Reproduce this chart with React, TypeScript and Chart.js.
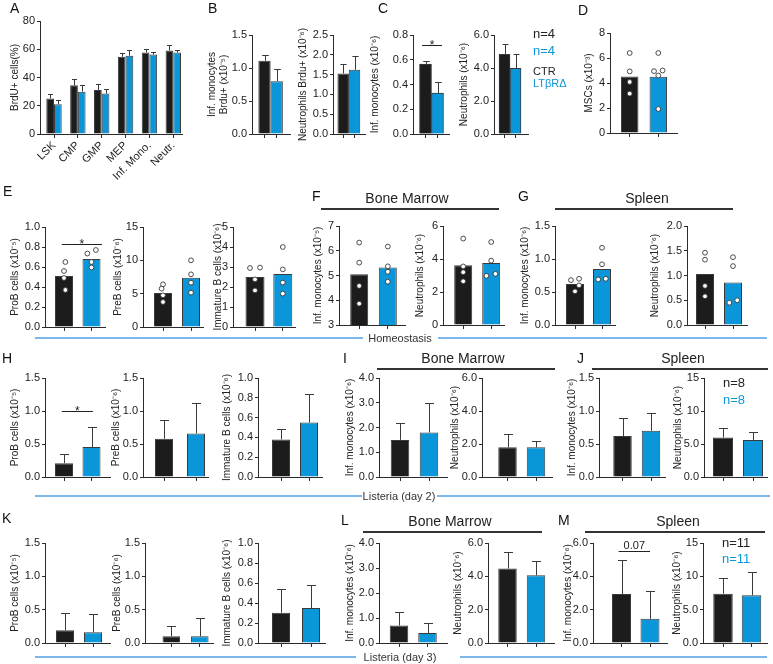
import React, { useEffect, useRef } from 'react';
import { Chart, registerables } from 'chart.js';

Chart.register(...registerables);

const FONT = '"Liberation Sans", Arial, Helvetica, sans-serif';
const BLACK = '#1c1c1c';
const BLUE = '#0a96d9';
const EDGE = '#3a3a3a';
const AXIS = '#2b2b2b';
const TEXT = '#222222';
const ERR = '#3a3a3a';
const SEP_BLUE = '#7db8ec';
const TITLE_SIZE = 10;
const TICK_SIZE = 11;

// ---------------- data ----------------
const GROUPS = ['CTR', 'LTβRΔ'];
const GROUP_COLORS = [BLACK, BLUE];

// Panel A
const A_CATEGORIES = ['LSK', 'CMP', 'GMP', 'MEP', 'Inf. Mono.', 'Neutr.'];
const A_CTR = [25.1, 34.5, 31.2, 54.7, 57.7, 59.2];
const A_CTR_SD = [3.3, 4.7, 4.2, 2.3, 2.6, 3.5];
const A_KO = [21.1, 30.0, 28.6, 55.4, 56.3, 57.7];
const A_KO_SD = [3.1, 5.0, 3.4, 4.0, 1.7, 1.9];

// Panel B
const B1_MEAN = [1.11, 0.8];
const B1_SD = [0.09, 0.19];
const B2_MEAN = [1.53, 1.62];
const B2_SD = [0.25, 0.35];
// Panel C
const C1_MEAN = [0.566, 0.33];
const C1_SD = [0.025, 0.09];
const C2_MEAN = [4.83, 3.98];
const C2_SD = [0.6, 0.85];
// Panel D
const D_MEAN = [4.53, 4.5];
const D_CTR_DOTS = [6.4, 4.93, 4.08, 3.15];
const D_KO_DOTS = [6.4, 4.95, 5.0, 4.6, 1.92];
const D_CTR_JIT = [0, 0, 0, 0];
const D_KO_JIT = [0, -0.15, 0.15, 0, 0];
// Panel E
const E1_MEAN = [0.51, 0.68];
const E1_CTR_DOTS = [0.65, 0.56, 0.49, 0.37];
const E1_KO_DOTS = [0.77, 0.735, 0.65, 0.595];
const E1_CTR_JIT = [0.05, 0, 0, 0.05];
const E1_KO_JIT = [0.16, -0.15, 0, 0];
const E2_MEAN = [5.1, 7.4];
const E2_CTR_DOTS = [6.4, 5.75, 4.75, 3.75];
const E2_KO_DOTS = [10.0, 7.9, 6.65, 5.15];
const E2_CTR_JIT = [0, -0.05, 0, 0];
const E2_KO_JIT = [0, 0, 0, 0];
const E3_MEAN = [2.5, 2.65];
const E3_CTR_DOTS = [2.95, 2.97, 2.38, 1.83];
const E3_KO_DOTS = [4.0, 2.88, 2.22, 1.67];
const E3_CTR_JIT = [-0.18, 0.18, 0, 0];
const E3_KO_JIT = [0, 0, 0, 0];
// Panel F
const F1_MEAN = [5.05, 5.32];
const F1_CTR_DOTS = [6.33, 5.52, 4.58, 3.86];
const F1_KO_DOTS = [6.17, 5.37, 5.15, 4.75];
const F2_MEAN = [3.62, 3.76];
const F2_CTR_DOTS = [5.24, 3.55, 3.2, 2.65];
const F2_KO_DOTS = [5.03, 3.9, 3.1, 2.98];
const F2_KO_JIT = [0, 0, 0.15, -0.17];
// Panel G
const G1_MEAN = [0.62, 0.85];
const G1_CTR_DOTS = [0.68, 0.7, 0.6, 0.51];
const G1_KO_DOTS = [1.17, 0.92, 0.69, 0.7];
const G1_CTR_JIT = [-0.15, 0.15, 0.15, 0];
const G1_KO_JIT = [0, 0, -0.14, 0.14];
const G2_MEAN = [1.03, 0.86];
const G2_CTR_DOTS = [1.46, 1.32, 0.79, 0.58];
const G2_KO_DOTS = [1.37, 1.19, 0.45, 0.5];
const G2_KO_JIT = [0, 0, -0.13, 0.15];
const ZERO4 = [0, 0, 0, 0];
// Panel H (Listeria day 2)
const H1_MEAN = [0.21, 0.455];
const H1_SD = [0.145, 0.305];
const H2_MEAN = [0.58, 0.66];
const H2_SD = [0.29, 0.46];
const H3_MEAN = [0.38, 0.55];
const H3_SD = [0.105, 0.285];
// Panel I
const I1_MEAN = [1.5, 1.8];
const I1_SD = [0.7, 1.17];
const I2_MEAN = [1.8, 1.8];
const I2_SD = [0.8, 0.4];
// Panel J
const J1_MEAN = [0.62, 0.7];
const J1_SD = [0.27, 0.265];
const J2_MEAN = [5.97, 5.6];
const J2_SD = [1.53, 1.27];
// Panel K (Listeria day 3)
const K1_MEAN = [0.19, 0.16];
const K1_SD = [0.26, 0.28];
const K2_MEAN = [0.1, 0.1];
const K2_SD = [0.155, 0.275];
const K3_MEAN = [0.303, 0.35];
const K3_SD = [0.234, 0.233];
// Panel L
const L1_MEAN = [0.7, 0.4];
const L1_SD = [0.545, 0.42];
const L2_MEAN = [4.47, 4.06];
const L2_SD = [0.98, 0.87];
// Panel M
const M1_MEAN = [2.94, 1.45];
const M1_SD = [2.06, 1.69];
const M2_MEAN = [7.4, 7.15];
const M2_SD = [2.35, 3.45];

// ---------------- types ----------------
type Series = { values: number[]; sd?: number[]; colors: string[] | string; dots?: number[][]; jitter?: number[][] };
type Sig = { value: number; from: number; to: number; text: string; size: number };
type Def = {
  title: string | string[];
  cats: string[];
  catLabels?: boolean;
  series: Series[];
  yMin: number; yMax: number; yStep: number;
  fmt: (v: number) => string;
  sig?: Sig;
};
type Geo = { x0: number; x1: number; c0: number; c1: number; bw: number; yTop: number; yBot: number; tx: number; padB?: number };

const d0 = (v: number) => String(Math.round(v));
const d1 = (v: number) => v.toFixed(1);
const dm = (v: number) => (v >= 10 ? String(Math.round(v)) : v.toFixed(1));

function two(title: string | string[], mean: number[], sd: number[] | undefined, yMin: number, yMax: number, yStep: number, fmt: (v: number) => string, dots?: number[][], jitter?: number[][], sig?: Sig): Def {
  return { title, cats: GROUPS, series: [{ values: mean, sd, colors: GROUP_COLORS, dots, jitter }], yMin, yMax, yStep, fmt, sig };
}

const PROB = 'ProB cells (x10⁻⁵)';
const PREB = 'PreB cells (x10⁻⁶)';
const IMMB = 'Immature B cells (x10⁻⁶)';
const MONO6 = 'Inf. monocytes (x10⁻⁶)';
const NEUT6 = 'Neutrophils (x10⁻⁶)';

const PANELS: { def: Def; geo: Geo }[] = [
  {
    def: {
      title: 'BrdU+ cells(%)', cats: A_CATEGORIES, catLabels: true,
      series: [{ values: A_CTR, sd: A_CTR_SD, colors: BLACK }, { values: A_KO, sd: A_KO_SD, colors: BLUE }],
      yMin: 0, yMax: 80, yStep: 20, fmt: d0,
    },
    geo: { x0: 40, x1: 182, c0: 54, c1: 173.3, bw: 15.4, yTop: 21, yBot: 134, tx: 15, padB: 52 },
  },
  { def: two(['Inf. monocytes', 'Brdu+ (x10⁻⁵)'], B1_MEAN, B1_SD, 0, 1.5, 0.5, d1), geo: { x0: 252, x1: 290, c0: 264.5, c1: 276.7, bw: 12.3, yTop: 35, yBot: 134, tx: 212 } },
  { def: two('Neutrophils Brdu+ (x10⁻⁶)', B2_MEAN, B2_SD, 0, 2.5, 0.5, d1), geo: { x0: 333, x1: 365, c0: 343.2, c1: 354.5, bw: 11.5, yTop: 35, yBot: 134, tx: 303 } },
  { def: two(MONO6, C1_MEAN, C1_SD, 0, 0.8, 0.2, d1, undefined, undefined, { value: 0.72, from: -0.29, to: 1.38, text: '*', size: 12 }), geo: { x0: 413, x1: 449, c0: 425.5, c1: 437.5, bw: 12, yTop: 35, yBot: 134, tx: 375 } },
  { def: two(NEUT6, C2_MEAN, C2_SD, 0, 6, 2, d1), geo: { x0: 494, x1: 528, c0: 504.5, c1: 515.5, bw: 11, yTop: 35, yBot: 134, tx: 464 } },
  { def: two('MSCs (x10⁻³)', D_MEAN, undefined, 0, 8, 2, d0, [D_CTR_DOTS, D_KO_DOTS], [D_CTR_JIT, D_KO_JIT]), geo: { x0: 610, x1: 677, c0: 629.7, c1: 658.3, bw: 17.5, yTop: 33, yBot: 133, tx: 589 } },

  { def: two(PROB, E1_MEAN, undefined, 0, 1, 0.2, d1, [E1_CTR_DOTS, E1_KO_DOTS], [E1_CTR_JIT, E1_KO_JIT], { value: 0.83, from: -0.08, to: 1.38, text: '*', size: 12 }), geo: { x0: 45, x1: 105, c0: 64, c1: 91.5, bw: 18, yTop: 227, yBot: 327, tx: 15 } },
  { def: two(PREB, E2_MEAN, undefined, 0, 15, 5, d0, [E2_CTR_DOTS, E2_KO_DOTS], [E2_CTR_JIT, E2_KO_JIT]), geo: { x0: 143, x1: 203, c0: 163, c1: 191, bw: 18, yTop: 227, yBot: 327, tx: 118 } },
  { def: two(IMMB, E3_MEAN, undefined, 0, 5, 1, d0, [E3_CTR_DOTS, E3_KO_DOTS], [E3_CTR_JIT, E3_KO_JIT]), geo: { x0: 233, x1: 295, c0: 255, c1: 282.8, bw: 19, yTop: 227, yBot: 327, tx: 218 } },
  { def: two('Inf. monocytes (x10⁻⁵)', F1_MEAN, undefined, 3, 7, 1, d0, [F1_CTR_DOTS, F1_KO_DOTS], [ZERO4, ZERO4]), geo: { x0: 339, x1: 405, c0: 359.2, c1: 387.8, bw: 18, yTop: 226, yBot: 325, tx: 318 } },
  { def: two(NEUT6, F2_MEAN, undefined, 0, 6, 2, d0, [F2_CTR_DOTS, F2_KO_DOTS], [ZERO4, F2_KO_JIT]), geo: { x0: 443, x1: 504, c0: 463.2, c1: 491.2, bw: 18, yTop: 226, yBot: 325, tx: 420 } },
  { def: two(MONO6, G1_MEAN, undefined, 0, 1.5, 0.5, d1, [G1_CTR_DOTS, G1_KO_DOTS], [G1_CTR_JIT, G1_KO_JIT]), geo: { x0: 555, x1: 615, c0: 575, c1: 602, bw: 18, yTop: 226, yBot: 325, tx: 525 } },
  { def: two(NEUT6, G2_MEAN, undefined, 0, 2, 0.5, d1, [G2_CTR_DOTS, G2_KO_DOTS], [ZERO4, G2_KO_JIT]), geo: { x0: 687, x1: 747, c0: 705, c1: 733, bw: 18, yTop: 226, yBot: 325, tx: 655 } },

  { def: two(PROB, H1_MEAN, H1_SD, 0, 1.5, 0.5, d1, undefined, undefined, { value: 1.0, from: -0.08, to: 1.05, text: '*', size: 12 }), geo: { x0: 45, x1: 110, c0: 64, c1: 91.5, bw: 18, yTop: 378, yBot: 477, tx: 15 } },
  { def: two(PREB, H2_MEAN, H2_SD, 0, 1.5, 0.5, d1), geo: { x0: 143, x1: 208, c0: 164, c1: 196, bw: 18, yTop: 378, yBot: 477, tx: 116 } },
  { def: two(IMMB, H3_MEAN, H3_SD, 0, 1, 0.2, d1), geo: { x0: 258, x1: 322, c0: 281, c1: 309, bw: 18, yTop: 378, yBot: 477, tx: 227 } },
  { def: two(MONO6, I1_MEAN, I1_SD, 0, 4, 1, d1), geo: { x0: 379, x1: 447, c0: 400, c1: 429, bw: 18.5, yTop: 378, yBot: 477, tx: 350 } },
  { def: two(NEUT6, I2_MEAN, I2_SD, 0, 6, 2, d1), geo: { x0: 482, x1: 552, c0: 507.5, c1: 536, bw: 18.5, yTop: 378, yBot: 477, tx: 455 } },
  { def: two(MONO6, J1_MEAN, J1_SD, 0, 1.5, 0.5, d1), geo: { x0: 599, x1: 665, c0: 622.5, c1: 651, bw: 18.5, yTop: 378, yBot: 477, tx: 572 } },
  { def: two(NEUT6, J2_MEAN, J2_SD, 0, 15, 5, dm), geo: { x0: 704, x1: 767, c0: 723, c1: 753, bw: 20, yTop: 378, yBot: 477, tx: 678 } },

  { def: two(PROB, K1_MEAN, K1_SD, 0, 1.5, 0.5, d1), geo: { x0: 45, x1: 110, c0: 65, c1: 93, bw: 18, yTop: 543, yBot: 643, tx: 15 } },
  { def: two(PREB, K2_MEAN, K2_SD, 0, 1.5, 0.5, d1), geo: { x0: 145, x1: 213, c0: 171.3, c1: 199.8, bw: 17.5, yTop: 543, yBot: 643, tx: 117 } },
  { def: two(IMMB, K3_MEAN, K3_SD, 0, 1, 0.2, d1), geo: { x0: 258, x1: 325, c0: 281, c1: 311, bw: 18, yTop: 543, yBot: 643, tx: 227 } },
  { def: two(MONO6, L1_MEAN, L1_SD, 0, 4, 1, d1), geo: { x0: 379, x1: 447, c0: 399, c1: 427.5, bw: 18.5, yTop: 543, yBot: 643, tx: 350 } },
  { def: two(NEUT6, L2_MEAN, L2_SD, 0, 6, 2, d1), geo: { x0: 488, x1: 554, c0: 507.5, c1: 536, bw: 18.5, yTop: 543, yBot: 643, tx: 458 } },
  { def: two(MONO6, M1_MEAN, M1_SD, 0, 6, 2, d1, undefined, undefined, { value: 5.5, from: -0.1, to: 1.0, text: '0.07', size: 11 }), geo: { x0: 593, x1: 667, c0: 621.5, c1: 650, bw: 19, yTop: 543, yBot: 643, tx: 568 } },
  { def: two(NEUT6, M2_MEAN, M2_SD, 0, 15, 5, dm), geo: { x0: 703, x1: 767, c0: 723, c1: 751.5, bw: 19.5, yTop: 543, yBot: 643, tx: 677 } },
];

// ---------------- chart component ----------------
function Plot({ def, geo }: { def: Def; geo: Geo }) {
  const ref = useRef<HTMLCanvasElement | null>(null);
  const PT = 18;
  const PR = 8;
  const PB = geo.padB ?? 16;
  const left = Math.round(geo.tx - TITLE_SIZE * 0.6);
  const wy = geo.x0 - left;
  const width = Math.round(wy + (geo.x1 - geo.x0) + PR);
  const height = Math.round(PT + (geo.yBot - geo.yTop) + PB);
  const top = geo.yTop - PT;

  useEffect(() => {
    const n = def.cats.length;
    const unit = (geo.c1 - geo.c0) / (n - 1);
    const xMin = -(geo.c0 - geo.x0) / unit;
    const xMax = n - 1 + (geo.x1 - geo.c1) / unit;
    const catPct = geo.bw / unit;
    const yTicks: number[] = [];
    for (let v = def.yMin; v <= def.yMax + 1e-9; v += def.yStep) yTicks.push(Math.round(v * 1e6) / 1e6);
    const prEdge = width - wy - (geo.x1 - geo.x0);

    const overlay = {
      id: 'overlay',
      afterDatasetsDraw(chart: any) {
        const ctx: CanvasRenderingContext2D = chart.ctx;
        const ys = chart.scales.y;
        const xs = chart.scales.x;
        const unitPx = xs.getPixelForValue(1) - xs.getPixelForValue(0);
        ctx.save();
        def.series.forEach((s, si) => {
          const meta = chart.getDatasetMeta(si);
          meta.data.forEach((el: any, i: number) => {
            const x = el.x;
            const w = el.width;
            if (s.sd) {
              const yb = ys.getPixelForValue(s.values[i]);
              const ye = Math.round(ys.getPixelForValue(s.values[i] + s.sd[i])) + 0.5;
              const xx = Math.round(x) + 0.5;
              const cap = Math.max(2.5, Math.min(4.5, w * 0.27));
              ctx.strokeStyle = ERR;
              ctx.lineWidth = 1;
              ctx.beginPath();
              ctx.moveTo(xx, yb);
              ctx.lineTo(xx, ye);
              ctx.moveTo(xx - cap, ye);
              ctx.lineTo(xx + cap, ye);
              ctx.stroke();
            }
          });
          if (s.dots) {
            s.dots.forEach((arr, gi) => {
              const cx = xs.getPixelForValue(gi);
              arr.forEach((v, k) => {
                const j = s.jitter ? s.jitter[gi][k] || 0 : 0;
                const px = cx + j * unitPx;
                const py = ys.getPixelForValue(v);
                ctx.beginPath();
                ctx.arc(px, py, 2.4, 0, Math.PI * 2);
                ctx.fillStyle = '#ffffff';
                ctx.fill();
                ctx.strokeStyle = EDGE;
                ctx.lineWidth = 0.9;
                ctx.stroke();
              });
            });
          }
        });
        if (def.sig) {
          const sg = def.sig;
          const xa = xs.getPixelForValue(sg.from);
          const xb = xs.getPixelForValue(sg.to);
          const yy = Math.round(ys.getPixelForValue(sg.value)) + 0.5;
          ctx.strokeStyle = '#222';
          ctx.lineWidth = 1;
          ctx.beginPath();
          ctx.moveTo(xa, yy);
          ctx.lineTo(xb, yy);
          ctx.stroke();
          ctx.fillStyle = TEXT;
          ctx.font = `${sg.size}px ${FONT}`;
          ctx.textAlign = 'center';
          ctx.textBaseline = 'alphabetic';
          ctx.fillText(sg.text, (xa + xb) / 2, sg.text === '*' ? yy + 3 : yy - 3);
        }
        ctx.restore();
      },
    };

    const datasets = def.series.map((s) => ({
      type: 'bar' as const,
      data: s.values.map((v, i) => ({ x: i, y: v })),
      backgroundColor: s.colors as any,
      borderColor: EDGE,
      borderWidth: 1,
      borderSkipped: 'start' as const,
      barPercentage: 1,
      categoryPercentage: catPct,
    }));

    const chart = new Chart(ref.current as HTMLCanvasElement, {
      type: 'bar',
      data: { datasets: datasets as any },
      options: {
        responsive: false,
        animation: false,
        devicePixelRatio: 1,
        events: [],
        layout: { padding: { top: PT, right: prEdge, bottom: 0, left: 0 } },
        plugins: { legend: { display: false }, tooltip: { enabled: false }, title: { display: false } },
        scales: {
          x: {
            type: 'linear',
            min: xMin,
            max: xMax,
            offset: false,
            afterBuildTicks: (s: any) => { s.ticks = def.cats.map((_, i) => ({ value: i })); },
            afterFit: (s: any) => { s.height = PB; },
            grid: { display: true, drawOnChartArea: false, drawTicks: true, tickLength: 4, color: AXIS, lineWidth: 1, offset: false },
            border: { display: true, color: AXIS, width: 1 },
            ticks: {
              display: !!def.catLabels,
              autoSkip: false,
              maxRotation: 45,
              minRotation: 45,
              padding: 1,
              color: TEXT,
              font: { family: FONT, size: TICK_SIZE },
              callback: (v: any) => def.cats[Number(v)] ?? '',
            },
          },
          y: {
            type: 'linear',
            min: def.yMin,
            max: def.yMax,
            afterBuildTicks: (s: any) => { s.ticks = yTicks.map((v) => ({ value: v })); },
            afterFit: (s: any) => { s.width = wy; },
            grid: { display: true, drawOnChartArea: false, drawTicks: true, tickLength: 3, color: AXIS, lineWidth: 1 },
            border: { display: true, color: AXIS, width: 1 },
            ticks: { padding: 2, color: TEXT, font: { family: FONT, size: TICK_SIZE }, callback: (v: any) => def.fmt(Number(v)) },
            title: { display: true, text: def.title as any, color: TEXT, font: { family: FONT, size: TITLE_SIZE, lineHeight: 1.2 }, padding: 0 },
          },
        },
      } as any,
      plugins: [overlay],
    });
    return () => chart.destroy();
  }, []);

  return <canvas ref={ref} width={width} height={height} style={{ position: 'absolute', left, top, width, height }} />;
}

// ---------------- annotations ----------------
function Txt({ x, y, text, size, color = TEXT, center = false }: { x: number; y: number; text: string; size: number; color?: string; center?: boolean }) {
  return (
    <div
      style={{
        position: 'absolute',
        left: x,
        top: y - size * 0.588,
        fontFamily: FONT,
        fontSize: size,
        lineHeight: `${size * 1.2}px`,
        color,
        whiteSpace: 'nowrap',
        transform: center ? 'translateX(-50%)' : undefined,
      }}
    >
      {text}
    </div>
  );
}

function HLine({ x1, x2, y, color, h }: { x1: number; x2: number; y: number; color: string; h: number }) {
  return <div style={{ position: 'absolute', left: x1, top: y - h / 2, width: x2 - x1, height: h, background: color }} />;
}

const LETTERS: [string, number, number][] = [
  ['A', 10, 8], ['B', 208, 8], ['C', 378, 8], ['D', 578, 10],
  ['E', 3, 191], ['F', 312, 196], ['G', 518, 196],
  ['H', 2, 358], ['I', 343, 358], ['J', 577, 358],
  ['K', 2, 518], ['L', 341, 520], ['M', 558, 520],
];

const HEADERS: [string, number, number, number, number, number][] = [
  // text, centerX, textY, lineY, lineX1, lineX2
  ['Bone Marrow', 407, 198, 209, 321, 499],
  ['Spleen', 647, 198, 209, 555, 733],
  ['Bone Marrow', 463, 358, 369, 377, 555],
  ['Spleen', 683, 358, 369, 592, 768],
  ['Bone Marrow', 450, 521, 532, 363, 542],
  ['Spleen', 678, 521, 532, 585, 765],
];

const SEPARATORS: [string, number, number, number, number, number, number][] = [
  // text, centerX, y, left1, right1, left2, right2
  ['Homeostasis', 400, 338, 35, 363, 438, 767],
  ['Listeria (day 2)', 399, 496, 35, 362, 437, 770],
  ['Listeria (day 3)', 400, 657, 35, 356, 460, 767],
];

export default function App() {
  return (
    <div style={{ position: 'absolute', left: 0, top: 0, width: 773, height: 664, background: '#ffffff', overflow: 'hidden' }}>
      {PANELS.map((p, i) => (
        <Plot key={i} def={p.def} geo={p.geo} />
      ))}
      {LETTERS.map(([t, x, y]) => (
        <Txt key={t} x={x} y={y} text={t} size={14} color="#111" />
      ))}
      {HEADERS.map(([t, cx, ty, ly, a, b], i) => (
        <React.Fragment key={'h' + i}>
          <Txt x={cx} y={ty} text={t} size={14} center />
          <HLine x1={a} x2={b} y={ly} color="#333" h={1.5} />
        </React.Fragment>
      ))}
      {SEPARATORS.map(([t, cx, y, a1, b1, a2, b2], i) => (
        <React.Fragment key={'s' + i}>
          <HLine x1={a1} x2={b1} y={y} color={SEP_BLUE} h={2} />
          <HLine x1={a2} x2={b2} y={y} color={SEP_BLUE} h={2} />
          <Txt x={cx} y={y} text={t} size={11} center color="#333" />
        </React.Fragment>
      ))}
      <Txt x={533} y={34} text="n=4" size={13} />
      <Txt x={533} y={51} text="n=4" size={13} color={BLUE} />
      <Txt x={533} y={71} text="CTR" size={11} />
      <Txt x={533} y={83} text={GROUPS[1]} size={11} color={BLUE} />
      <Txt x={723} y={383} text="n=8" size={13} />
      <Txt x={723} y={400} text="n=8" size={13} color={BLUE} />
      <Txt x={722} y={543} text="n=11" size={13} />
      <Txt x={722} y={559} text="n=11" size={13} color={BLUE} />
    </div>
  );
}
